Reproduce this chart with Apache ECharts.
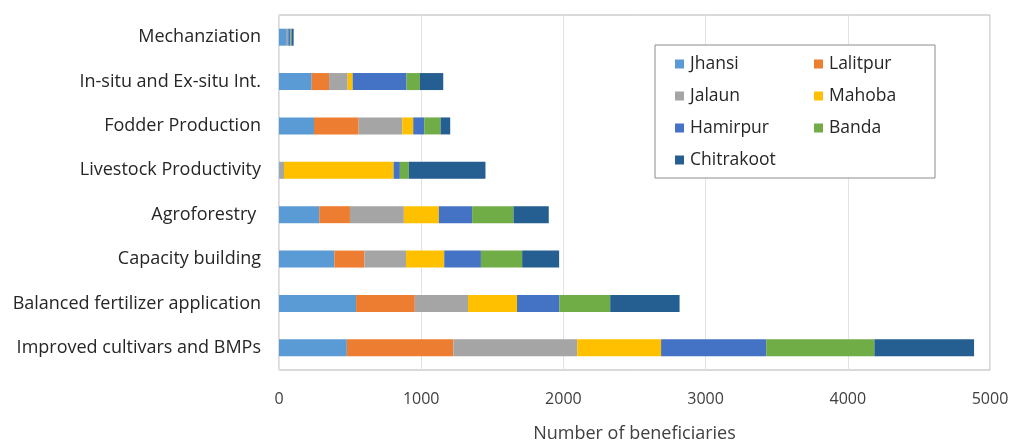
<!DOCTYPE html>
<html>
<head>
<meta charset="utf-8">
<script src="https://cdn.jsdelivr.net/npm/echarts@6/dist/echarts.min.js"></script>
<style>
  html, body { margin: 0; padding: 0; background: #fff; }
  #chart { width: 1013px; height: 444px; }
</style>
</head>
<body>
<div id="chart"></div>
<script>
// categories, top to bottom
const categories = [
  'Mechanziation',
  'In-situ and Ex-situ Int.',
  'Fodder Production',
  'Livestock Productivity',
  'Agroforestry ',
  'Capacity building',
  'Balanced fertilizer application',
  'Improved cultivars and BMPs'
];

// beneficiaries per district, same order as categories
const jhansi     = [55, 230, 246, 5, 283, 389, 542, 477];
const lalitpur   = [0, 122, 314, 0, 216, 211, 413, 749];
const jalaun     = [10, 131, 307, 30, 379, 293, 374, 871];
const mahoba     = [0, 35, 77, 771, 246, 269, 345, 590];
const hamirpur   = [15, 379, 77, 44, 234, 258, 297, 739];
const banda      = [8, 94, 115, 63, 291, 290, 358, 761];
const chitrakoot = [15, 164, 68, 539, 248, 260, 488, 701];

const xTicks = [0, 1000, 2000, 3000, 4000, 5000];

const districts = [
  { name: 'Jhansi', data: jhansi, color: '#5B9BD5' },
  { name: 'Lalitpur', data: lalitpur, color: '#ED7D31' },
  { name: 'Jalaun', data: jalaun, color: '#A5A5A5' },
  { name: 'Mahoba', data: mahoba, color: '#FFC000' },
  { name: 'Hamirpur', data: hamirpur, color: '#4472C4' },
  { name: 'Banda', data: banda, color: '#70AD47' },
  { name: 'Chitrakoot', data: chitrakoot, color: '#255E91' }
];

const FONT = '"Open Sans", sans-serif';
const TEXT = '#404040';

const chart = echarts.init(document.getElementById('chart'));

const legendCommon = {
  orient: 'vertical',
  itemWidth: 9,
  itemHeight: 9,
  itemGap: 14,
  icon: 'rect',
  padding: 0,
  textStyle: { fontFamily: FONT, fontSize: 17.5, lineHeight: 18, color: '#262626', padding: [0, 0, 0, 1] },
  top: 55
};

const option = {
  animation: false,
  grid: {
    left: 279, right: 23, top: 15, bottom: 74,
    outerBoundsMode: 'none',
    show: true, borderColor: '#b4b4b4', borderWidth: 1
  },
  graphic: [{
    type: 'rect',
    shape: { x: 655, y: 45, width: 280, height: 133 },
    style: { fill: '#fff', stroke: '#8c8c8c', lineWidth: 1 },
    z: 5
  }],
  legend: [
    Object.assign({}, legendCommon, { left: 675, data: ['Jhansi', 'Jalaun', 'Hamirpur', 'Chitrakoot'], z: 10 }),
    Object.assign({}, legendCommon, { left: 814, data: ['Lalitpur', 'Mahoba', 'Banda'], z: 10 })
  ],
  xAxis: {
    type: 'value',
    min: xTicks[0],
    max: xTicks[xTicks.length - 1],
    interval: 1000,
    name: 'Number of beneficiaries',
    nameLocation: 'middle',
    nameGap: 55,
    nameTextStyle: { fontFamily: FONT, fontSize: 18, color: TEXT },
    axisLine: { show: false },
    axisTick: { show: false },
    axisLabel: { fontFamily: FONT, fontSize: 16, color: TEXT, margin: 21, formatter: (v) => String(v) },
    splitLine: { lineStyle: { color: '#e3e3e3' } }
  },
  yAxis: {
    type: 'category',
    inverse: true,
    data: categories,
    axisLine: { show: false },
    axisTick: { show: false },
    axisLabel: { fontFamily: FONT, fontSize: 18, color: '#262626', margin: 18 }
  },
  series: districts.map((d) => ({
    name: d.name,
    type: 'bar',
    stack: 'total',
    barWidth: 17,
    data: d.data,
    itemStyle: { color: d.color }
  }))
};

chart.setOption(option);
</script>
</body>
</html>
